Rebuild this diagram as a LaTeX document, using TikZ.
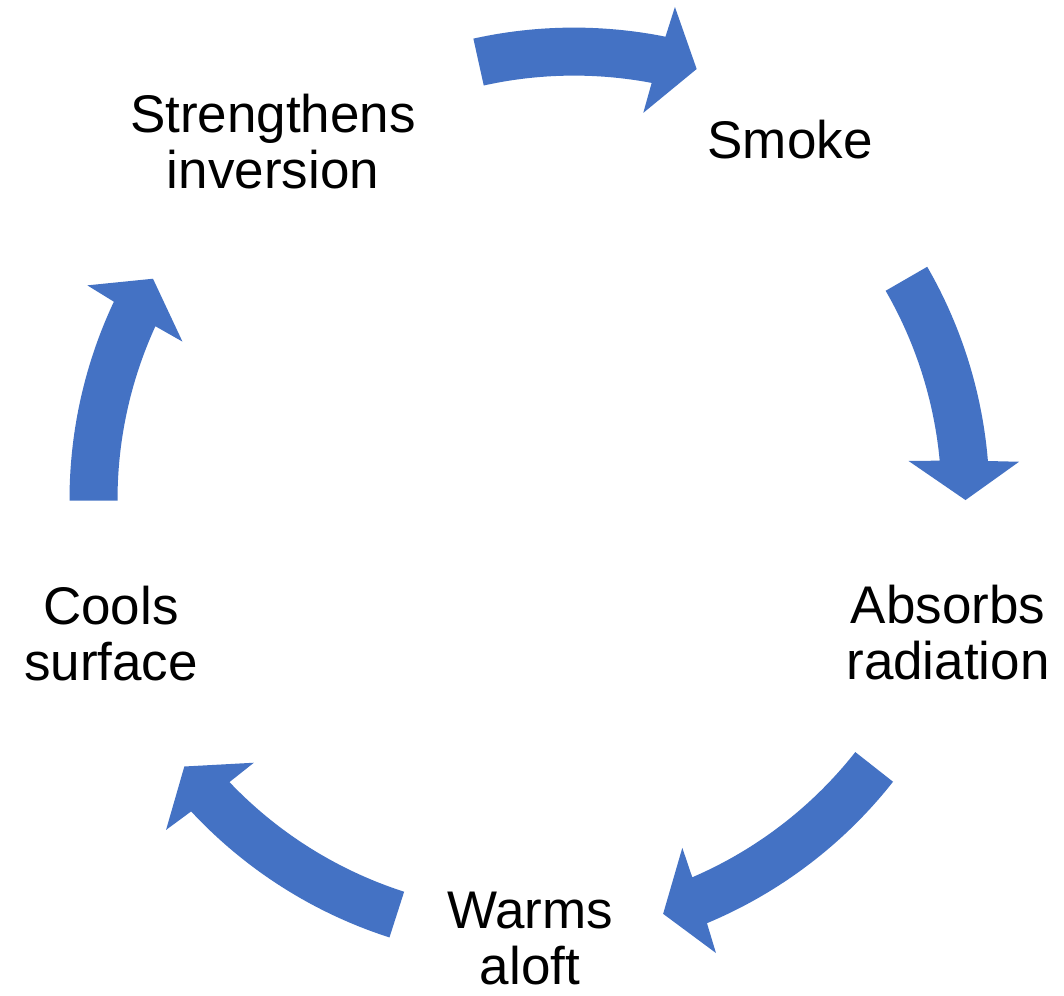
\documentclass[tikz,border=0pt]{standalone}
\usepackage{fontspec}
\setmainfont{Liberation Sans}
\definecolor{arrowblue}{HTML}{4472C4}
% #1,#2 centre; #3 tail angle; #4 outer barb angle; #5 inner barb angle; #6 tip angle
\newcommand{\cyclearrow}[6]{%
  \pgfmathsetmacro{\joinout}{#4+0.2818*(#5-#4)}%
  \pgfmathsetmacro{\joinin}{#4+0.7182*(#5-#4)}%
  \fill[arrowfill]
    ([shift={(#1pt,#2pt)}]#3:465pt) arc[start angle=#3, end angle=\joinout, radius=465pt]
    -- ([shift={(#1pt,#2pt)}]#4:496pt)
    -- ([shift={(#1pt,#2pt)}]#6:441pt)
    -- ([shift={(#1pt,#2pt)}]#5:386pt)
    -- ([shift={(#1pt,#2pt)}]\joinin:417pt)
    arc[start angle=\joinin, end angle=#3, radius=417pt] -- cycle;}
\begin{document}
\begin{tikzpicture}[
  arrowfill/.style={fill=arrowblue},
  label/.style={align=center, inner sep=0pt, font=\fontsize{53}{56}\selectfont, text=black}
]
\useasboundingbox[fill=white] (0,0) rectangle (1064pt,995pt);
% arrows
\cyclearrow{574}{502.4}{102.5}{78.26}{79.66}{73.85}
\cyclearrow{524.5}{495.7}{30.0}{4.34}{5.7}{-0.1}
\cyclearrow{527.6}{500.8}{-38.2}{-67.68}{-66.37}{-72.1}
\cyclearrow{531.6}{500.3}{252.2}{222.52}{223.98}{218.05}
\cyclearrow{534.5}{495.1}{180.1}{154.37}{155.79}{149.9}
% labels
\node[label] (smoke) at (790pt,855pt) {Smoke};
\node[label] (absorbs) at (948pt,362pt) {Absorbs\\radiation};
\node[label] (warms) at (530pt,56pt) {Warms\\aloft};
\node[label] (cools) at (111pt,361pt) {Cools\\surface};
\node[label] (strength) at (273pt,853pt) {Strengthens\\inversion};
\end{tikzpicture}
\end{document}
